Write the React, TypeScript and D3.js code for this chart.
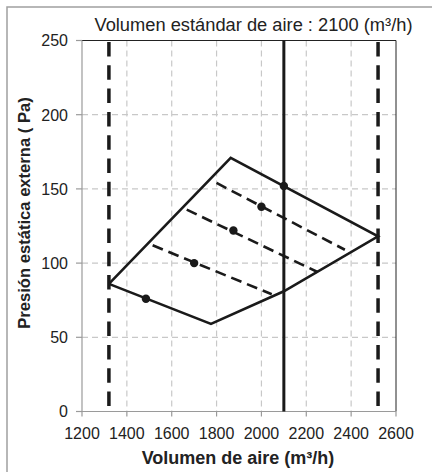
import React from "react";
import * as d3 from "d3";

const xTicks = [1200, 1400, 1600, 1800, 2000, 2200, 2400, 2600];
const yTicks = [0, 50, 100, 150, 200, 250];

// operating envelope (m³/h, Pa)
const envelope: [number, number][] = [
  [1320, 86],
  [1863, 171],
  [2520, 118],
  [2100, 81],
  [1775, 59],
  [1320, 86],
];

// fan-speed lines (dashed)
const speedLow: [number, number][] = [[1515, 112], [2046, 79]];
const speedMid: [number, number][] = [[1667, 136], [2250, 94]];
const speedHigh: [number, number][] = [[1800, 154], [2372, 109]];
const speedLines = [speedLow, speedMid, speedHigh];

const dots: [number, number][] = [
  [1485, 76],
  [1700, 100],
  [1875, 122],
  [2000, 138],
  [2100, 152],
];

const limitVolumes = [1320, 2520];
const standardVolume = 2100;

const W = 432;
const H = 472;
const left = 82;
const right = 396;
const top = 40.5;
const bottom = 411.5;

export default function App() {
  const x = d3.scaleLinear().domain([1200, 2600]).range([left, right]);
  const y = d3.scaleLinear().domain([0, 250]).range([bottom, top]);
  const line = d3
    .line<[number, number]>()
    .x((d) => x(d[0]))
    .y((d) => y(d[1]));
  const font = "Liberation Sans, Arial, sans-serif";
  const grid = "#c8c8c8";
  const axis = "#9a9a9a";
  return (
    <svg
      width={W}
      height={H}
      style={{ position: "absolute", left: 0, top: 0, background: "#fff" }}
      fontFamily={font}
    >
      <rect x={7} y={7} width={W} height={H} fill="none" stroke="#a0a0a0" strokeWidth={1.5} />
      {/* grid */}
      {xTicks.slice(1, -1).map((t) => (
        <line key={"gx" + t} x1={x(t)} x2={x(t)} y1={top} y2={bottom} stroke={grid} strokeWidth={1.2} strokeDasharray="6,4" />
      ))}
      {yTicks.slice(1, -1).map((t) => (
        <line key={"gy" + t} x1={left} x2={right} y1={y(t)} y2={y(t)} stroke={grid} strokeWidth={1.2} strokeDasharray="6,4" />
      ))}
      {/* borders */}
      <line x1={left} x2={right} y1={top} y2={top} stroke="#222" strokeWidth={1} />
      <line x1={right} x2={right} y1={top} y2={bottom} stroke="#222" strokeWidth={1} />
      <line x1={left} x2={left} y1={top} y2={bottom} stroke={axis} strokeWidth={1.2} />
      <line x1={left} x2={right} y1={bottom} y2={bottom} stroke={axis} strokeWidth={1.2} />
      {yTicks.map((t) => (
        <g key={"ty" + t}>
          <line x1={left - 6} x2={left} y1={y(t)} y2={y(t)} stroke={axis} strokeWidth={1.2} />
          <text x={left - 14} y={y(t) + 5.8} textAnchor="end" fontSize={16} fill="#222">
            {t}
          </text>
        </g>
      ))}
      {xTicks.map((t) => (
        <g key={"tx" + t}>
          <line x1={x(t)} x2={x(t)} y1={bottom} y2={bottom + 5} stroke={axis} strokeWidth={1.2} />
          <text x={x(t)} y={438.5} textAnchor="middle" fontSize={16} fill="#222">
            {t}
          </text>
        </g>
      ))}
      {/* limit lines */}
      {limitVolumes.map((v) => (
        <line key={"lim" + v} x1={x(v)} x2={x(v)} y1={top + 1.5} y2={bottom} stroke="#1a1a1a" strokeWidth={3.5} strokeDasharray="14.5,8.8" />
      ))}
      <line x1={x(standardVolume)} x2={x(standardVolume)} y1={top} y2={bottom} stroke="#1a1a1a" strokeWidth={3} />
      {/* envelope */}
      <path d={line(envelope) ?? ""} fill="none" stroke="#1a1a1a" strokeWidth={2.6} strokeLinejoin="miter" />
      {speedLines.map((s, i) => (
        <path key={"sp" + i} d={line(s) ?? ""} fill="none" stroke="#1a1a1a" strokeWidth={2.6} strokeDasharray="11,6" />
      ))}
      {dots.map((d, i) => (
        <circle key={"dot" + i} cx={x(d[0])} cy={y(d[1])} r={4.2} fill="#1a1a1a" />
      ))}
      {/* titles */}
      <text x={253.5} y={31} textAnchor="middle" fontSize={18.3} fill="#222">
        Volumen estándar de aire : 2100 (m³/h)
      </text>
      <text x={238} y={463.5} textAnchor="middle" fontSize={18} fontWeight="bold" fill="#222">
        Volumen de aire (m³/h)
      </text>
      <text transform={`translate(30,213) rotate(-90)`} textAnchor="middle" fontSize={16.6} fontWeight="bold" fill="#222">
        Presión estática externa ( Pa)
      </text>
    </svg>
  );
}
